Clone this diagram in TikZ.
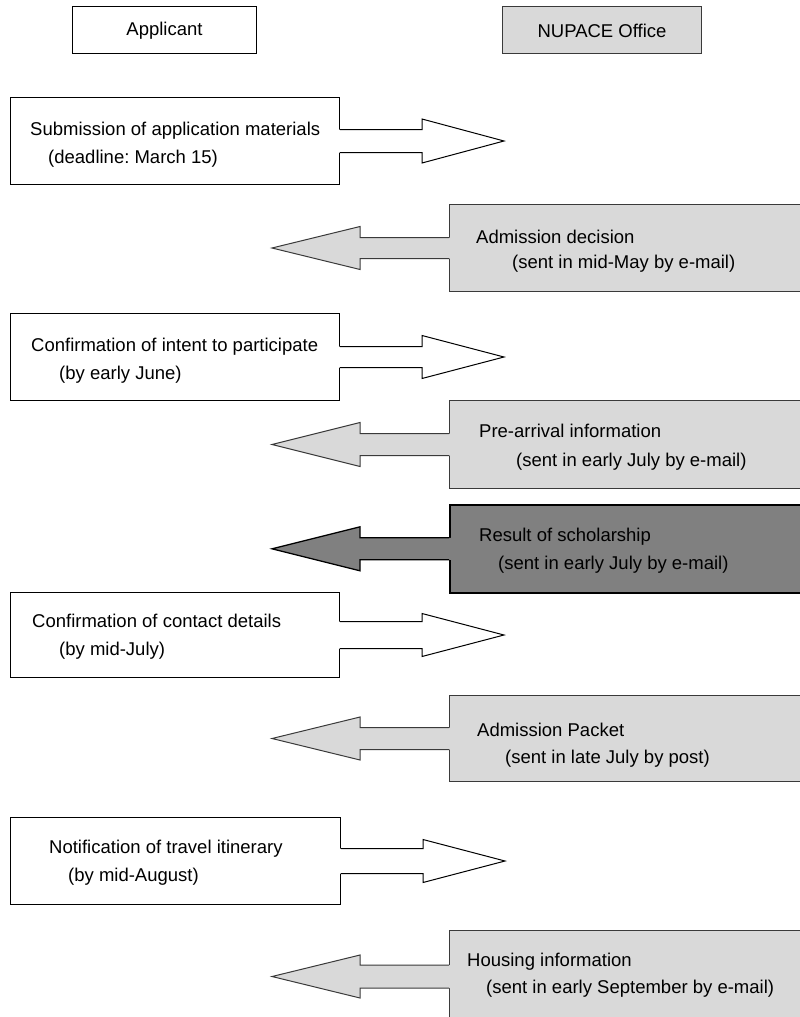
\documentclass[tikz,border=0pt]{standalone}
\usepackage{fontspec}
\setmainfont{Liberation Sans}
\usetikzlibrary{calc}
\frenchspacing
\definecolor{lightbox}{HTML}{D9D9D9}
\definecolor{darkbox}{HTML}{808080}
\definecolor{greyedge}{HTML}{3A3A3A}
% right-pointing block arrow leaving a box: #1 box, #2 shaft half, #3 head half, #4 style, #5 tip name
\newcommand\rblockarrow[5]{%
  \coordinate (#5) at ($(#1.east)+(164,0)$);
  \fill[#4,draw=none] ($(#1.east)+(-3,-#2)$) -- ($(#1.east)+(82,-#2)$) -- ($(#1.east)+(82,-#3)$) -- (#5)
     -- ($(#1.east)+(82,#3)$) -- ($(#1.east)+(82,#2)$) -- ($(#1.east)+(-3,#2)$) -- cycle;
  \draw[#4,fill=none,line join=miter] ($(#1.east)+(0,-#2)$) -- ($(#1.east)+(82,-#2)$) -- ($(#1.east)+(82,-#3)$) -- (#5)
     -- ($(#1.east)+(82,#3)$) -- ($(#1.east)+(82,#2)$) -- ($(#1.east)+(0,#2)$);
}
% left-pointing block arrow leaving a box
\newcommand\lblockarrow[5]{%
  \coordinate (#5) at ($(#1.west)+(-177,0)$);
  \fill[#4,draw=none] ($(#1.west)+(3,-#2)$) -- ($(#1.west)+(-89,-#2)$) -- ($(#1.west)+(-89,-#3)$) -- (#5)
     -- ($(#1.west)+(-89,#3)$) -- ($(#1.west)+(-89,#2)$) -- ($(#1.west)+(3,#2)$) -- cycle;
  \draw[#4,fill=none,line join=miter] ($(#1.west)+(0,-#2)$) -- ($(#1.west)+(-89,-#2)$) -- ($(#1.west)+(-89,-#3)$) -- (#5)
     -- ($(#1.west)+(-89,#3)$) -- ($(#1.west)+(-89,#2)$) -- ($(#1.west)+(0,#2)$);
}
\begin{document}
\begin{tikzpicture}[x=1pt,y=-1pt,
  font=\fontsize{18.5}{22}\selectfont,
  box/.style={line width=1pt, inner sep=0pt, anchor=north west},
  whitebox/.style={box, draw=black, fill=white},
  greybox/.style={box, draw=greyedge, fill=lightbox},
  darkgreybox/.style={box, draw=black, fill=darkbox, line width=1.6pt},
  whitearrow/.style={draw=black, fill=white, line width=1pt},
  greyarrow/.style={draw=greyedge, fill=lightbox, line width=1pt},
  darkarrow/.style={draw=black, fill=darkbox, line width=1.3pt},
  lbl/.style={anchor=base west, inner sep=0pt},
]
\useasboundingbox (0,0) rectangle (800,1017);

% headers
\node[whitebox, minimum width=184pt, minimum height=47pt] (hA) at (72,6) {};
\node (hAt) at ($(hA.center)+(0,1)$) {Applicant};
\node[greybox, minimum width=199pt, minimum height=47pt] (hN) at (502,6) {};
\node (hNt) at ($(hN.center)+(0,1)$) {NUPACE Office};

% boxes
\node[whitebox, minimum width=329pt, minimum height=87pt] (b1) at (10,97) {};
\node[greybox, minimum width=353pt, minimum height=87pt] (b2) at (449,204) {};
\node[whitebox, minimum width=329pt, minimum height=87pt] (b3) at (10,313) {};
\node[greybox, minimum width=353pt, minimum height=88pt] (b4) at (449,400) {};
\node[darkgreybox, minimum width=353pt, minimum height=88pt] (b5) at (449,504) {};
\node[whitebox, minimum width=329pt, minimum height=85pt] (b6) at (10,592) {};
\node[greybox, minimum width=353pt, minimum height=86pt] (b7) at (449,695) {};
\node[whitebox, minimum width=330pt, minimum height=87pt] (b8) at (10,817) {};
\node[greybox, minimum width=353pt, minimum height=92pt] (b9) at (449,930) {};

% arrows
\rblockarrow{b1}{11.5}{22}{whitearrow}{t1}
\lblockarrow{b2}{10.5}{21.5}{greyarrow}{t2}
\rblockarrow{b3}{10.5}{21.5}{whitearrow}{t3}
\lblockarrow{b4}{11}{22}{greyarrow}{t4}
\lblockarrow{b5}{11}{22}{darkarrow}{t5}
\rblockarrow{b6}{13.5}{21.5}{whitearrow}{t6}
\lblockarrow{b7}{11}{21.5}{greyarrow}{t7}
\rblockarrow{b8}{12.5}{21.5}{whitearrow}{t8}
\lblockarrow{b9}{11.5}{21.5}{greyarrow}{t9}

% texts
\node[lbl] (l1a) at (30,135) {Submission of application materials};
\node[lbl] (l1b) at (48,163) {(deadline: March 15)};
\node[lbl] (l2a) at (476,243) {Admission decision};
\node[lbl] (l2b) at (512,268) {(sent in mid-May by e-mail)};
\node[lbl] (l3a) at (31,351) {Confirmation of intent to participate};
\node[lbl] (l3b) at (59,379) {(by early June)};
\node[lbl] (l4a) at (479,437) {Pre-arrival information};
\node[lbl] (l4b) at (516,466) {(sent in early July by e-mail)};
\node[lbl] (l5a) at (479,541) {Result of scholarship};
\node[lbl] (l5b) at (498,569) {(sent in early July by e-mail)};
\node[lbl] (l6a) at (32,627) {Confirmation of contact details};
\node[lbl] (l6b) at (59,655) {(by mid-July)};
\node[lbl] (l7a) at (477,736) {Admission Packet};
\node[lbl] (l7b) at (505,763) {(sent in late July by post)};
\node[lbl] (l8a) at (49,853) {Notification of travel itinerary};
\node[lbl] (l8b) at (68,881) {(by mid-August)};
\node[lbl] (l9a) at (467,966) {Housing information};
\node[lbl] (l9b) at (486,993) {(sent in early September by e-mail)};
\end{tikzpicture}
\end{document}
